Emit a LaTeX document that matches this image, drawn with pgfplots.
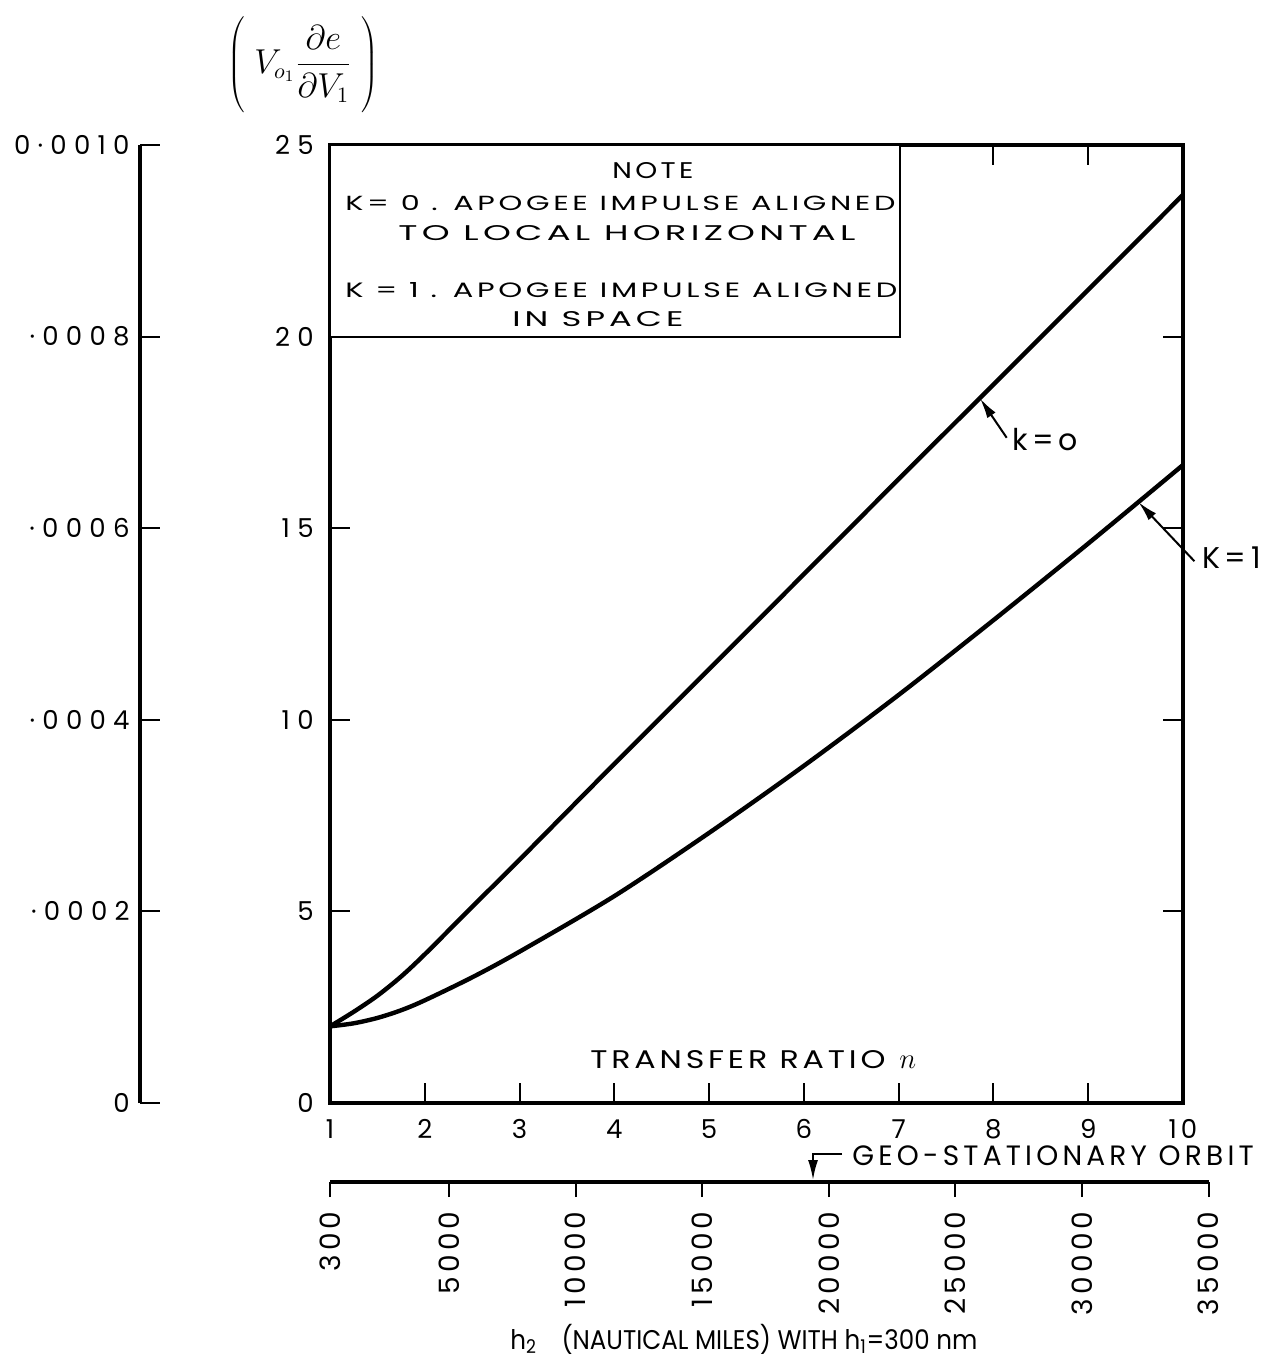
\documentclass[border=0pt]{standalone}
\usepackage{pgfplots}
\pgfplotsset{compat=1.18}
\usepackage{fontspec}
\setmainfont{Poppins}[LetterSpace=15]
\newfontfamily\lw{Poppins}[LetterSpace=12]
\newfontfamily\lt{Poppins}[LetterSpace=28]
\newfontfamily\lz{Poppins}[LetterSpace=0]
\usetikzlibrary{arrows.meta}
\newcommand{\fs}[1]{\fontsize{#1}{#1}\selectfont}
\begin{document}
\begin{tikzpicture}
\begin{scope}[x=0.5pt,y=-0.5pt]
\useasboundingbox (0,0) rectangle (1283,1368);
\end{scope}
% left auxiliary scale
\begin{axis}[at={(70pt,-551.5pt)}, anchor=south west, scale only axis,
  width=20pt, height=479pt, xmin=0, xmax=1, ymin=0, ymax=0.001,
  axis y line=left, axis x line=none,
  y axis line style={-, line width=2pt},
  ytick={0,0.0002,0.0004,0.0006,0.0008,0.001},
  yticklabels={0,·0002,·0004,·0006,·0008,0·0010},
  tick align=inside, major tick length=10pt,
  every tick/.style={black, line width=1pt},
  yticklabel style={anchor=east, inner sep=0pt, xshift=-5pt, font=\lt\fs{13}},
  scaled y ticks=false]
\addplot[draw=none] coordinates {(0,0)};
\end{axis}
% bottom auxiliary scale
\begin{axis}[at={(165pt,-591pt)}, anchor=south west, scale only axis,
  width=439.3pt, height=10pt, xmin=300, xmax=35000, ymin=0, ymax=1,
  axis x line=bottom, axis y line=none,
  x axis line style={-, line width=1.8pt},
  xtick={300,5000,10000,15000,20000,25000,30000,35000},
  xticklabels={300,5000,10000,15000,20000,25000,30000,35000},
  tick align=outside, major tick length=7.5pt,
  every tick/.style={black, line width=1pt},
  xticklabel style={yshift=-7pt, rotate=90, anchor=east, inner sep=0pt, font=\fs{14}},
  scaled x ticks=false]
\addplot[draw=none] coordinates {(300,0)};
\end{axis}
% main axis
\begin{axis}[at={(165pt,-551.5pt)}, anchor=south west, scale only axis,
  width=426.5pt, height=479pt, xmin=1, xmax=10, ymin=0, ymax=25, clip=false,
  xtick={1,...,10}, ytick={0,5,...,25},
  xtick pos=left, ytick pos=both,
  tick align=inside, major tick length=10pt,
  every tick/.style={black, line width=1pt},
  axis line style={line width=1.7pt},
  xticklabels={1,2,3,4,5,6,7,8,9,10},
  yticklabels={0,5,10,15,20,25},
  xticklabel style={anchor=north, inner sep=0pt, yshift=-8pt, font=\fs{13}},
  yticklabel style={anchor=east, inner sep=0pt, xshift=-8pt, font=\lt\fs{13}}]
\addplot[line width=2.2pt, smooth, tension=0.5] coordinates {
(1,2.0) (1.25,2.38) (1.5,2.8) (1.75,3.3) (2,3.88) (2.5,5.12) (3,6.35) (4,8.85)
(5,11.32) (6,13.8) (7,16.28) (8,18.75) (9,21.22) (10,23.7)};
\addplot[line width=2.2pt, smooth, tension=0.5] coordinates {
(1,2.0) (1.25,2.08) (1.5,2.22) (1.75,2.42) (2,2.68) (2.5,3.28) (3,3.95) (4,5.4)
(5,7.05) (6,8.8) (7,10.65) (8,12.6) (9,14.6) (10,16.65)};
\draw[line width=1.1pt, fill=white] (axis cs:1,20) rectangle (axis cs:7.01,25);
\draw[line width=1pt] (axis cs:8,25) -- ++(0pt,-10pt);
\draw[line width=1pt] (axis cs:9,25) -- ++(0pt,-10pt);
\draw[line width=1pt, -{Latex[length=10pt,width=5pt]}] (axis cs:8.14,17.36) -- (axis cs:7.86,18.38);
\draw[line width=1pt, -{Latex[length=10pt,width=5pt]}] (axis cs:10.12,14.14) -- (axis cs:9.53,15.68);
\end{axis}
\begin{scope}[x=0.5pt,y=-0.5pt]
\node[anchor=base west, inner sep=0pt] at (612,179) {\lw\fs{12}\resizebox{40.5pt}{8pt}{NOTE}};
\node[anchor=base west, inner sep=0pt] at (345,211) {\lw\fs{11}\resizebox{275pt}{7.5pt}{K= 0 . APOGEE IMPULSE ALIGNED}};
\node[anchor=base west, inner sep=0pt] at (398,241) {\lw\fs{11}\resizebox{228.5pt}{7.5pt}{TO LOCAL HORIZONTAL}};
\node[anchor=base west, inner sep=0pt] at (345,298) {\lw\fs{11}\resizebox{276pt}{7.5pt}{K = 1 . APOGEE IMPULSE ALIGNED}};
\node[anchor=base west, inner sep=0pt] at (512,327) {\lw\fs{11}\resizebox{85.5pt}{7.5pt}{IN SPACE}};
\node[anchor=base west, inner sep=0pt] at (590,1068) {\lw\fs{13}\resizebox{147.5pt}{9pt}{TRANSFER RATIO}\hspace{7pt}\fs{15}$n$};
\node[anchor=base west, inner sep=0pt, font=\fs{15}] at (1012,451) {k=o};
\node[anchor=base west, inner sep=0pt, font=\fs{15}] at (1202,568) {K=1};
\draw[line width=1pt, -{Latex[length=10pt,width=5pt]}] (842,1154) -- (813,1154) -- (813,1180);
\node[anchor=base west, inner sep=0pt, font=\fs{14}] at (852,1165) {GEO-STATIONARY ORBIT};
\node[anchor=base west, inner sep=0pt, font=\lz\fs{13.5}] at (510,1349) {\scalebox{0.91}[1]{h\textsubscript{2}\quad(NAUTICAL MILES) WITH h\textsubscript{1}=300 nm}};
\node[inner sep=0pt, font=\fs{16}] at (303,66) {$\left(\rule[-21pt]{0pt}{42pt}\;V_{o_1}\displaystyle\frac{\partial e}{\partial V_1}\;\right)$};
\end{scope}
\end{tikzpicture}
\end{document}
